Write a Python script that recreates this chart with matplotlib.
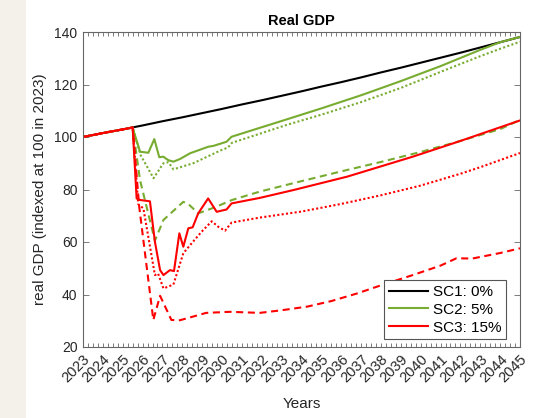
import matplotlib
matplotlib.use("Agg")
import matplotlib.pyplot as plt
from matplotlib.patches import Rectangle
import numpy as np

plt.rcParams['font.family'] = ['Liberation Sans', 'DejaVu Sans']

years = list(range(2023, 2046))

# SC1: no shock
sc1_t = years
sc1_v = [100.0, 101.5, 102.9, 104.4, 106.0, 107.5, 109.1, 110.7, 112.4, 114.0, 115.7,
         117.4, 119.2, 120.9, 122.7, 124.6, 126.4, 128.3, 130.2, 132.1, 134.1, 136.1, 138.1]

# common path before the shock
pre_t = [2023, 2024, 2025, 2025.5]
pre_v = [100.0, 101.5, 102.9, 103.6]

# SC2: 5%
sc2_t = [2025.87, 2026.29, 2026.59, 2026.84, 2027.04, 2027.29, 2027.55, 2027.88, 2028.39,
         2029.31, 2029.56, 2030.23, 2030.48, 2031.57, 2033.25, 2035, 2037, 2039, 2041, 2043, 2044, 2045]
sc2_v = [94.4, 94.0, 99.2, 92.3, 92.5, 91.2, 90.6, 91.6, 93.8,
         96.3, 96.6, 98.2, 100.1, 102.7, 106.7, 110.9, 115.9, 121.3, 127.0, 133.2, 136.1, 138.1]

sc2_lo_t = [2025.9, 2026.55, 2027.05, 2027.3, 2027.55, 2028.55, 2029.9, 2030.3, 2030.5,
            2031.6, 2033.25, 2035, 2037, 2039, 2041, 2043, 2044, 2045]
sc2_lo_v = [93.1, 84.3, 90.0, 90.4, 87.7, 90.0, 94.8, 96.0, 97.8,
            100.5, 104.6, 108.5, 113.3, 118.7, 124.8, 130.8, 133.6, 136.3]

sc2_hi_t = [2025.87, 2026.62, 2027.05, 2028.05, 2028.3, 2028.8, 2029.7, 2030.5, 2031.9,
            2033.9, 2036, 2038, 2040, 2042, 2044, 2045]
sc2_hi_v = [83.6, 60.5, 68.4, 75.3, 74.5, 70.9, 73.4, 76.0, 79.2,
            83.0, 86.9, 90.5, 94.3, 98.5, 103.0, 106.5]

# SC3: 15%
sc3_t = [2025.7, 2025.87, 2026.37, 2026.62, 2026.88, 2027.05, 2027.38, 2027.58, 2027.85,
         2028.05, 2028.3, 2028.52, 2028.8, 2029.3, 2029.73, 2030.23, 2030.48, 2031.9,
         2033.6, 2036.3, 2039.6, 2042, 2045]
sc3_v = [76.6, 76.0, 75.5, 60.1, 49.3, 47.4, 49.3, 48.9, 63.3,
         58.2, 65.2, 65.6, 70.9, 76.6, 71.5, 72.4, 74.7, 76.8,
         79.8, 84.9, 92.5, 98.5, 106.3]

sc3_lo_t = [2025.78, 2026.04, 2026.62, 2026.78, 2027.05, 2027.55, 2028.05, 2028.39, 2028.97,
            2029.48, 2029.81, 2030.15, 2030.48, 2031.9, 2034, 2036, 2038, 2040, 2042, 2043, 2045]
sc3_lo_v = [74.4, 72.8, 47.4, 48.0, 42.3, 43.8, 55.7, 58.8, 63.9,
            67.9, 65.8, 64.3, 67.4, 69.3, 71.6, 74.5, 77.8, 81.5, 86.0, 88.5, 93.9]

sc3_hi_t = [2025.83, 2026.54, 2026.88, 2027.45, 2027.88, 2028.5, 2029.2, 2030.4, 2031.9,
            2033, 2034.3, 2035.5, 2036.8, 2038, 2039.6, 2041, 2041.8, 2042.6, 2044, 2045]
sc3_hi_v = [73.4, 30.3, 39.5, 30.3, 30.2, 31.5, 33.0, 33.4, 33.0,
            34.0, 35.4, 37.5, 40.4, 43.5, 47.4, 51.0, 53.8, 53.7, 55.8, 57.6]

green = '#77AC30'
red = '#FF0000'

fig = plt.figure(figsize=(5.58, 4.18), dpi=100)
fig.patches.append(Rectangle((0, 0), 26 / 558, 1, transform=fig.transFigure,
                             facecolor='#F3F1EA', edgecolor='none', zorder=-1))
ax = fig.add_axes([83 / 558, 1 - 347 / 418, 437 / 558, 315 / 418])

lw = 1.5
dash = (3.4, 2.2)
dot = (1, 1.1)
ax.plot(sc1_t, sc1_v, '-', color='black', linewidth=lw, label='SC1: 0%')
ax.plot(pre_t + sc2_t, pre_v + sc2_v, '-', color=green, linewidth=lw, label='SC2: 5%')
ax.plot(pre_t + sc2_hi_t, pre_v + sc2_hi_v, '--', color=green, linewidth=lw, dashes=dash)
ax.plot(pre_t + sc2_lo_t, pre_v + sc2_lo_v, ':', color=green, linewidth=lw, dashes=dot)
ax.plot(pre_t + sc3_t, pre_v + sc3_v, '-', color=red, linewidth=lw, label='SC3: 15%')
ax.plot(pre_t + sc3_hi_t, pre_v + sc3_hi_v, '--', color=red, linewidth=lw, dashes=dash)
ax.plot(pre_t + sc3_lo_t, pre_v + sc3_lo_v, ':', color=red, linewidth=lw, dashes=dot)

ax.set_xlim(2023, 2045)
ax.set_ylim(20, 140)
ax.set_xticks(years)
ax.set_xticks(np.arange(2023, 2045.01, 0.25), minor=True)
ax.set_xticklabels([str(y) for y in years], rotation=45, ha='right', va='top',
                   rotation_mode='anchor', fontsize=10.5)
ax.set_yticks(range(20, 141, 20))

for s in ax.spines.values():
    s.set_color('#666666')
    s.set_linewidth(0.8)
ax.tick_params(axis='both', which='both', direction='in', top=True, right=True,
               colors='#666666', labelcolor='#262626')
ax.tick_params(axis='y', labelsize=10)
ax.tick_params(axis='x', which='both', length=3, width=0.6, pad=4)
ax.tick_params(axis='y', which='major', length=4, width=0.6, pad=4)

ax.set_title('Real GDP', fontsize=10.5, fontweight='bold', pad=5)
ax.set_xlabel('Years', fontsize=11, color='#262626', labelpad=8)
ax.set_ylabel('real GDP (indexed at 100 in 2023)', fontsize=11, color='#262626', labelpad=5)

leg = ax.legend(loc='lower right', fontsize=11, frameon=True, fancybox=False,
                edgecolor='#555555', framealpha=1, handlelength=2.6,
                borderpad=0.3, labelspacing=0.25, handletextpad=0.3,
                borderaxespad=0, bbox_to_anchor=(0.968, 0.025))
leg.get_frame().set_linewidth(0.8)

fig.savefig('out.png', dpi=100)
